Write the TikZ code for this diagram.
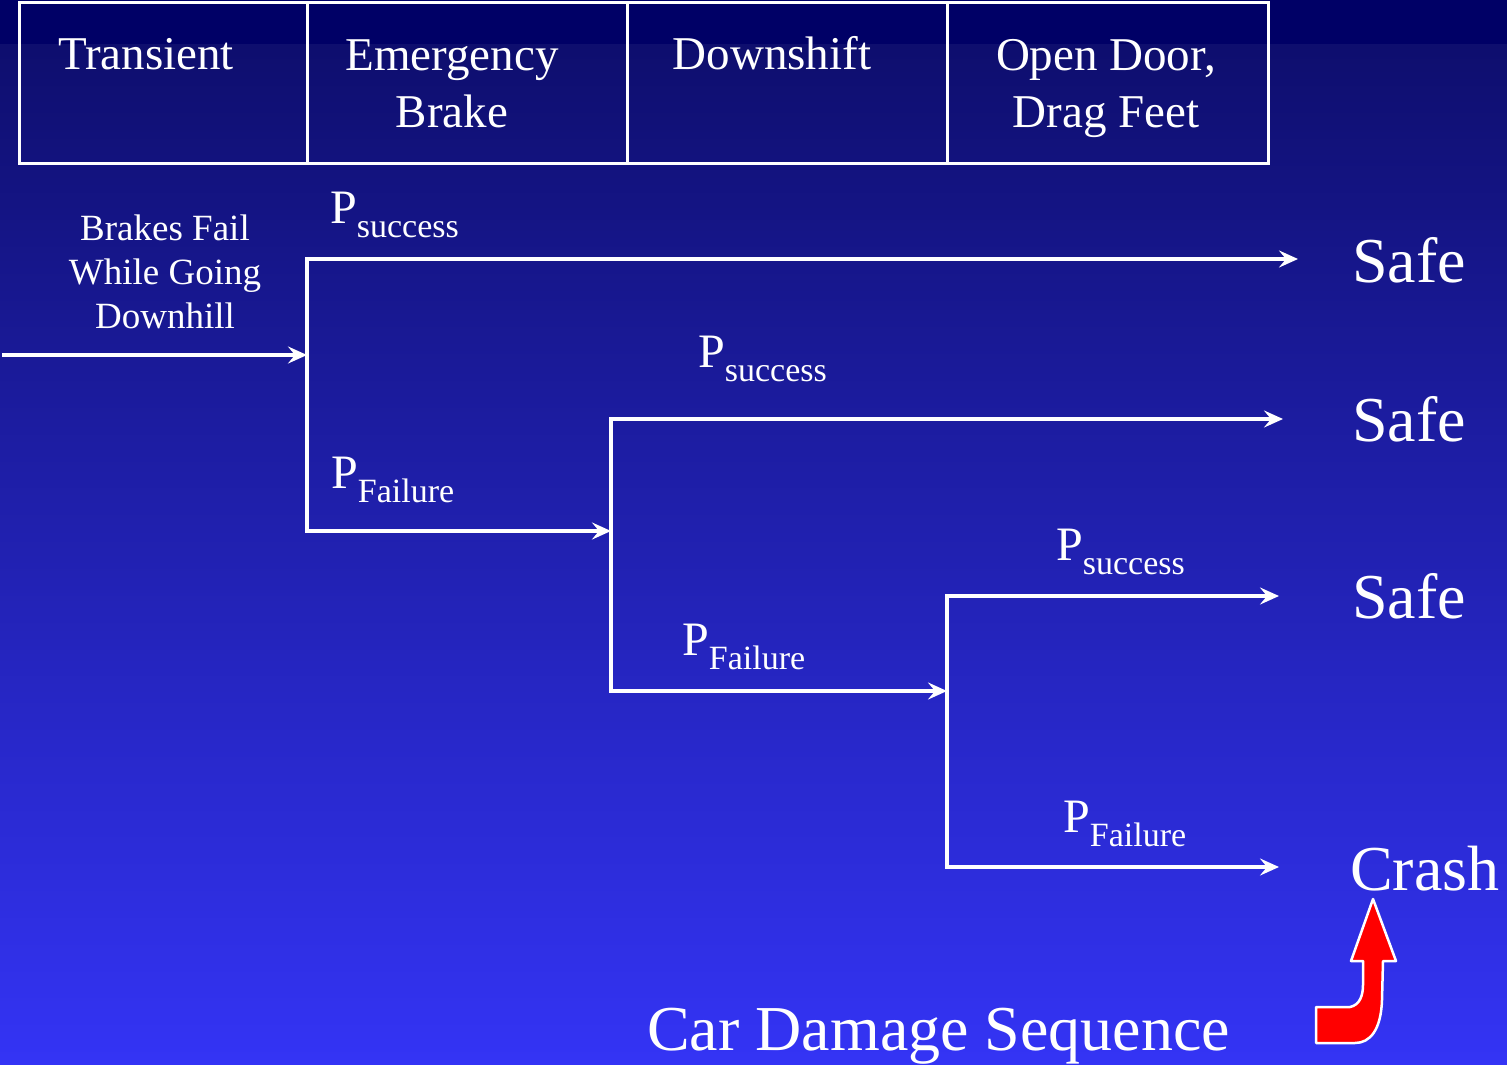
\documentclass[tikz,border=0pt]{standalone}
\usepackage{fontspec}
\setmainfont{Liberation Serif}
\usepackage{tikz}
\usetikzlibrary{arrows.meta}

\definecolor{bandnavy}{RGB}{0,0,102}
\definecolor{bgtop}{RGB}{14,14,110}
\definecolor{bgbot}{RGB}{52,52,245}
\definecolor{crashred}{RGB}{255,0,0}

% P with a lowered subscript word
\newcommand{\prob}[1]{P\raisebox{-14pt}{\fontsize{34}{40}\selectfont #1}}

\begin{document}
\begin{tikzpicture}[
    x=1pt, y=-1pt,
    hdrcell/.style={draw=white, line width=3pt, minimum height=160pt, inner sep=0pt},
    hdrtext/.style={text=white, font=\fontsize{47}{57}\selectfont, align=center, anchor=base, inner sep=0pt},
    branch/.style={draw=white, line width=4.5pt, line cap=rect},
    flow/.style={branch, -{Stealth[length=19pt, width=17pt, inset=7pt]}},
    plabel/.style={text=white, font=\fontsize{48}{56}\selectfont, anchor=base west, inner sep=0pt},
    outcome/.style={text=white, font=\fontsize{64}{70}\selectfont, anchor=base west, inner sep=0pt}
]
\useasboundingbox (0,0) rectangle (1507,1065);

% --- Background ---
\fill[bandnavy] (0,0) rectangle (1507,45);
\shade[top color=bgtop, bottom color=bgbot] (0,45) rectangle (1507,1065);

% --- Header row ---
\node[hdrcell, minimum width=288pt] (hTrans) at (163,83) {};
\node[hdrcell, minimum width=320pt] (hBrake) at (467,83) {};
\node[hdrcell, minimum width=320pt] (hShift) at (787,83) {};
\node[hdrcell, minimum width=321pt] (hDoor) at (1107.5,83) {};

% multi-line texts sit on the baseline of their last line
\node[hdrtext] (tTrans) at (146,70) {Transient};
\node[hdrtext] (tBrake) at (452,127) {Emergency\\Brake};
\node[hdrtext] (tShift) at (772,70) {Downshift};
\node[hdrtext] (tDoor) at (1106,127) {Open Door,\\Drag Feet};

% --- Initiating event ---
\node[text=white, font=\fontsize{37}{44}\selectfont, align=center, anchor=base, inner sep=0pt] (init) at (165,328) {Brakes Fail\\While Going\\Downhill};

% Branch points
\coordinate (s0) at (4,355);
\coordinate (b1) at (307,355);
\coordinate (b1s) at (307,259);
\coordinate (b1f) at (307,531);
\coordinate (b2) at (611,531);
\coordinate (b2s) at (611,419);
\coordinate (b2f) at (611,691);
\coordinate (b3) at (947,691);
\coordinate (b3s) at (947,596);
\coordinate (b3f) at (947,867);
\coordinate (e1) at (1298,259);
\coordinate (e2) at (1283,419);
\coordinate (e3) at (1279,596);
\coordinate (e4) at (1279,867);

% --- Event tree ---
\draw[flow] (s0) -- (b1);
\draw[branch] (b1s) -- (b1f);
\draw[flow] (b1s) -- (e1);
\draw[flow] (b1f) -- (b2);
\draw[branch] (b2s) -- (b2f);
\draw[flow] (b2s) -- (e2);
\draw[flow] (b2f) -- (b3);
\draw[branch] (b3s) -- (b3f);
\draw[flow] (b3s) -- (e3);
\draw[flow] (b3f) -- (e4);

% Probabilities
\node[plabel] (p1s) at (330,223) {\prob{success}};
\node[plabel] (p1f) at (331,488) {\prob{Failure}};
\node[plabel] (p2s) at (698,367) {\prob{success}};
\node[plabel] (p2f) at (682,655) {\prob{Failure}};
\node[plabel] (p3s) at (1056,560) {\prob{success}};
\node[plabel] (p3f) at (1063,832) {\prob{Failure}};

% Outcomes
\node[outcome] (safeA) at (1352,282) {Safe};
\node[outcome] (safeB) at (1352,441) {Safe};
\node[outcome] (safeC) at (1352,618) {Safe};
\node[outcome] (crash) at (1350,890) {Crash};

% --- Sequence title and red arrow ---
\node[outcome] (seq) at (647,1050) {Car Damage Sequence};

\draw[fill=crashred, draw=white, line width=2.5pt, line join=round]
    (1373,899) -- (1396,961) -- (1383,961) -- (1382,1000)
    .. controls (1381,1030) and (1370,1043) .. (1355,1043)
    -- (1316,1043) -- (1316,1007) -- (1350,1007)
    .. controls (1360,1005) and (1363,995) .. (1363,985)
    -- (1363,961) -- (1351,961) -- cycle;

\end{tikzpicture}
\end{document}
